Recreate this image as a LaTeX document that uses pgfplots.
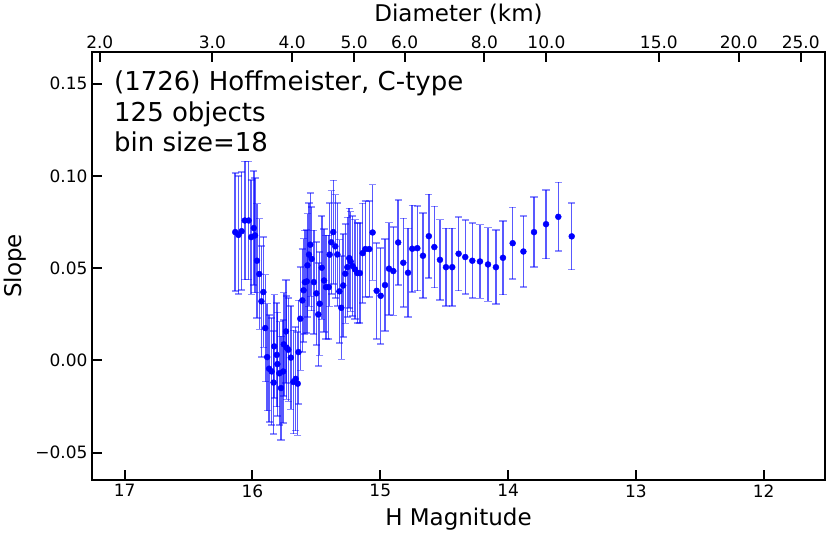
\documentclass[border=0pt]{standalone}
\usepackage{pgfplots}
\pgfplotsset{compat=1.18}
\usepackage{pgfplotstable}
\usepackage{fontspec}
\setmainfont{DejaVu Sans}

\pgfplotstableread{
h s e
16.135 0.0695 0.032
16.110 0.0680 0.032
16.085 0.0700 0.032
16.060 0.0758 0.032
16.030 0.0758 0.032
16.010 0.0668 0.031
15.990 0.0717 0.031
15.980 0.0677 0.031
15.965 0.0540 0.031
15.947 0.0468 0.030
15.930 0.0320 0.030
15.915 0.0370 0.030
15.900 0.0175 0.029
15.885 0.0018 0.029
15.870 -0.0045 0.029
15.850 -0.0060 0.029
15.835 -0.0120 0.028
15.830 0.0076 0.028
15.810 0.0030 0.028
15.805 -0.0020 0.028
15.790 -0.0070 0.028
15.777 -0.0150 0.028
15.760 -0.0060 0.028
15.755 0.0087 0.028
15.738 0.0157 0.028
15.733 0.0069 0.028
15.720 0.0058 0.028
15.700 0.0015 0.028
15.680 -0.0117 0.028
15.662 -0.0100 0.028
15.646 -0.0126 0.028
15.640 0.0045 0.028
15.626 0.0226 0.028
15.610 0.0325 0.028
15.600 0.0380 0.028
15.590 0.0424 0.028
15.575 0.0428 0.028
15.570 0.0515 0.028
15.558 0.0573 0.028
15.548 0.0627 0.028
15.537 0.0550 0.028
15.520 0.0424 0.028
15.500 0.0363 0.028
15.485 0.0249 0.028
15.474 0.0307 0.028
15.458 0.0502 0.028
15.440 0.0433 0.028
15.425 0.0397 0.028
15.404 0.0397 0.028
15.396 0.0573 0.028
15.383 0.0640 0.028
15.368 0.0695 0.028
15.352 0.0618 0.028
15.336 0.0574 0.028
15.320 0.0374 0.028
15.305 0.0285 0.028
15.290 0.0406 0.028
15.274 0.0470 0.027
15.258 0.0505 0.027
15.243 0.0554 0.027
15.232 0.0536 0.027
15.216 0.0511 0.027
15.198 0.0493 0.027
15.180 0.0473 0.027
15.160 0.0473 0.027
15.138 0.0581 0.027
15.117 0.0603 0.026
15.086 0.0603 0.026
15.060 0.0693 0.026
15.028 0.0377 0.026
14.997 0.0350 0.026
14.963 0.0408 0.025
14.932 0.0497 0.025
14.898 0.0484 0.024
14.860 0.0639 0.023
14.820 0.0529 0.024
14.783 0.0475 0.024
14.750 0.0605 0.0235
14.710 0.0608 0.023
14.666 0.0567 0.023
14.620 0.0673 0.0226
14.577 0.0614 0.022
14.533 0.0545 0.0218
14.486 0.0505 0.021
14.437 0.0505 0.021
14.387 0.0578 0.020
14.335 0.0560 0.020
14.280 0.0540 0.0203
14.220 0.0536 0.020
14.157 0.0520 0.020
14.095 0.0505 0.020
14.040 0.0556 0.020
13.964 0.0635 0.0194
13.880 0.0590 0.0192
13.797 0.0695 0.019
13.703 0.0738 0.0186
13.607 0.0778 0.0186
13.502 0.0672 0.018
}\data

\begin{document}
\begin{tikzpicture}[x=1pt,y=1pt]
\useasboundingbox (0,0) rectangle (830,537);
\begin{axis}[
  at={(92pt,57pt)}, anchor=south west,
  scale only axis, width=733pt, height=428pt,
  x dir=reverse, xmin=11.52, xmax=17.256,
  ymin=-0.0648, ymax=0.1671,
  axis line style={line width=2.4pt},
  tick align=inside, xtick pos=lower, ytick pos=left,
  major tick length=10pt,
  every tick/.style={black, line width=2pt},
  xtick={12,13,14,15,16,17},
  xticklabels={12,13,14,15,16,17},
  ytick={-0.05,0,0.05,0.1,0.15},
  yticklabels={−0.05,0.00,0.05,0.10,0.15},
  tick label style={font=\fontsize{17}{19}\selectfont},
  xticklabel style={yshift=-1pt},
  yticklabel style={xshift=-1pt},
  xlabel={H Magnitude}, ylabel={Slope},
  label style={font=\fontsize{23}{26}\selectfont},
  xlabel style={at={(axis description cs:0.5,-0.0911)}, anchor=center},
  ylabel style={at={(axis description cs:-0.105,0.5)}, anchor=center, rotate=0},
  clip=false,
]
\addplot+[only marks, mark=*, color=blue, mark size=3pt,
  mark options={fill=blue, draw=blue},
  error bars/.cd, y dir=both, y explicit,
  error bar style={draw=blue, line width=1.5pt, draw opacity=0.65},
  error mark options={rotate=90, draw=blue, line width=1.6pt, mark size=3.6pt, draw opacity=0.45}]
  table[x=h, y=s, y error=e] {\data};
\node[anchor=base west, inner sep=0pt, font=\fontsize{26}{30}\selectfont] at (axis description cs:0.030,0.9089) {(1726) Hoffmeister, C-type};
\node[anchor=base west, inner sep=0pt, font=\fontsize{26}{30}\selectfont] at (axis description cs:0.030,0.8376) {125 objects};
\node[anchor=base west, inner sep=0pt, font=\fontsize{26}{30}\selectfont] at (axis description cs:0.030,0.7675) {bin size=18};
\end{axis}
\begin{axis}[
  at={(92pt,57pt)}, anchor=south west,
  scale only axis, width=733pt, height=428pt,
  x dir=reverse, xmin=11.52, xmax=17.256,
  ymin=-0.0648, ymax=0.1671,
  axis x line*=top, axis y line=none,
  axis line style={line width=2.4pt, -},
  tick align=inside,
  major tick length=10pt,
  every tick/.style={black, line width=2pt},
  xtick={17.195,16.314,15.690,15.205,14.809,14.185,13.700,12.820,12.195,11.710},
  xticklabels={2.0,3.0,4.0,5.0,6.0,8.0,10.0,15.0,20.0,25.0},
  tick label style={font=\fontsize{17}{19}\selectfont},
  xticklabel style={yshift=0pt},
  xlabel={Diameter (km)},
  label style={font=\fontsize{23}{26}\selectfont},
  xlabel style={at={(axis description cs:0.5,1.0888)}, anchor=center},
  ytick=\empty,
]
\addplot[draw=none, forget plot] coordinates {(15,0)};
\end{axis}
\end{tikzpicture}
\end{document}
